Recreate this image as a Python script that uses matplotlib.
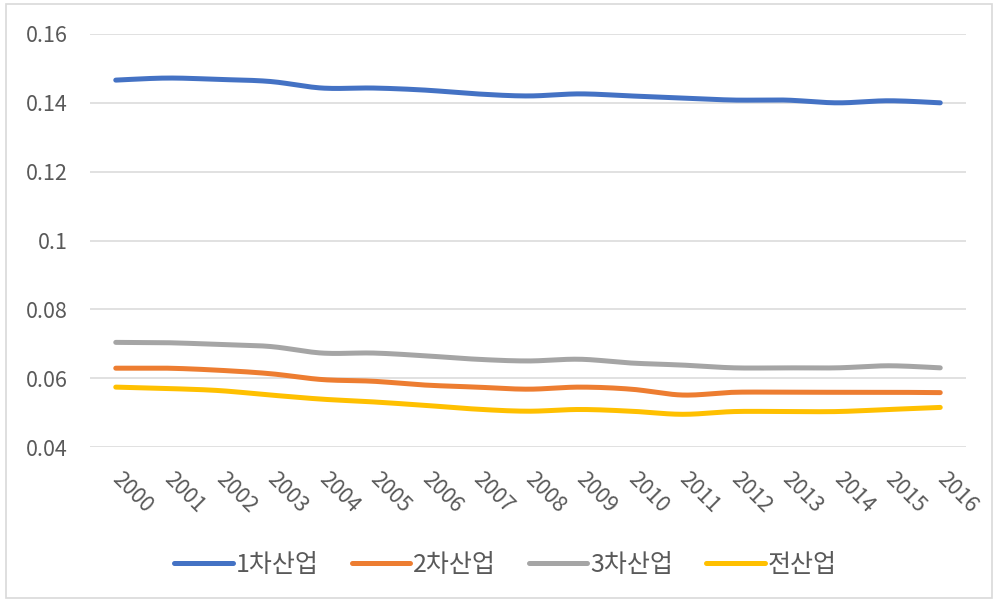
import numpy as np
import matplotlib
matplotlib.use("Agg")
import matplotlib.pyplot as plt
from matplotlib.patches import Rectangle

plt.rcParams['font.family'] = ['Noto Sans CJK KR', 'DejaVu Sans']

years = ['2000', '2001', '2002', '2003', '2004', '2005', '2006', '2007', '2008',
         '2009', '2010', '2011', '2012', '2013', '2014', '2015', '2016']
primary = [0.1466, 0.1472, 0.1468, 0.1462, 0.1443, 0.1443, 0.1437, 0.1426, 0.1420,
           0.1426, 0.1420, 0.1414, 0.1408, 0.1408, 0.1400, 0.1406, 0.1400]
secondary = [0.0629, 0.0629, 0.0623, 0.0613, 0.0596, 0.0591, 0.0580, 0.0574, 0.0568,
             0.0574, 0.0568, 0.0551, 0.0559, 0.0559, 0.0559, 0.0559, 0.0558]
tertiary = [0.0704, 0.0703, 0.0698, 0.0692, 0.0673, 0.0673, 0.0665, 0.0655, 0.0650,
            0.0655, 0.0644, 0.0638, 0.0630, 0.0630, 0.0630, 0.0636, 0.0630]
total = [0.0574, 0.0570, 0.0564, 0.0551, 0.0539, 0.0531, 0.0521, 0.0510, 0.0504,
         0.0509, 0.0504, 0.0495, 0.0503, 0.0503, 0.0503, 0.0509, 0.0515]
series_names = ['1차산업', '2차산업', '3차산업', '전산업']
colors = ['#4472C4', '#ED7D31', '#A5A5A5', '#FFC000']
yticks = [0.04, 0.06, 0.08, 0.1, 0.12, 0.14, 0.16]
ytick_labels = ['0.04', '0.06', '0.08', '0.1', '0.12', '0.14', '0.16']


def smooth(x, y, n=20):
    """Bezier smoothing similar to Excel smoothed lines."""
    x = np.asarray(x, float)
    y = np.asarray(y, float)
    px = np.concatenate([[x[0]], x, [x[-1]]])
    py = np.concatenate([[y[0]], y, [y[-1]]])
    xs, ys = [], []
    t = np.linspace(0, 1, n, endpoint=False)
    for i in range(1, len(px) - 2):
        p0, p1, p2, p3 = py[i - 1], py[i], py[i + 1], py[i + 2]
        q0, q1, q2, q3 = px[i - 1], px[i], px[i + 1], px[i + 2]
        c1y = p1 + (p2 - p0) / 6
        c2y = p2 - (p3 - p1) / 6
        c1x = q1 + (q2 - q0) / 6
        c2x = q2 - (q3 - q1) / 6
        b0 = (1 - t) ** 3
        b1 = 3 * (1 - t) ** 2 * t
        b2 = 3 * (1 - t) * t ** 2
        b3 = t ** 3
        xs.append(b0 * q1 + b1 * c1x + b2 * c2x + b3 * q2)
        ys.append(b0 * p1 + b1 * c1y + b2 * c2y + b3 * p2)
    xs.append([x[-1]])
    ys.append([y[-1]])
    return np.concatenate(xs), np.concatenate(ys)


fig = plt.figure(figsize=(9.97, 5.99), dpi=100)
fig.patches.append(Rectangle((6 / 997, 1 / 599), 986 / 997, 594 / 599,
                             transform=fig.transFigure, fill=False,
                             edgecolor='#D9D9D9', lw=1.2))
ax = fig.add_axes([90 / 997, 1 - 447 / 599, 876 / 997, 413 / 599])

x = np.arange(len(years))
for vals, name, c in zip([primary, secondary, tertiary, total], series_names, colors):
    sx, sy = smooth(x, vals)
    ax.plot(sx, sy, color=c, lw=3.6, label=name, solid_capstyle='round',
            solid_joinstyle='round')

ax.set_xlim(-0.5, len(years) - 0.5)
ax.set_ylim(0.04, 0.16)
ax.set_yticks(yticks)
ax.set_yticklabels(ytick_labels)
ax.set_xticks(x)
ax.set_xticklabels(years, rotation=-45, ha='left', va='center', rotation_mode='anchor')
ax.grid(axis='y', color='#D9D9D9', lw=1.1)
ax.set_axisbelow(True)
for s in ax.spines.values():
    s.set_visible(False)
ax.tick_params(axis='both', length=0, colors='#595959', labelsize=15.5)
ax.tick_params(axis='y', pad=16)
ax.tick_params(axis='x', pad=21)

leg = fig.legend(loc='center', bbox_to_anchor=(0.507, 1 - 565 / 599), ncol=4,
                 frameon=False, fontsize=18, handlelength=2.35, handletextpad=0.12,
                 columnspacing=1.3)
for t in leg.get_texts():
    t.set_color('#595959')

fig.savefig('out.png', dpi=100, facecolor='white')
